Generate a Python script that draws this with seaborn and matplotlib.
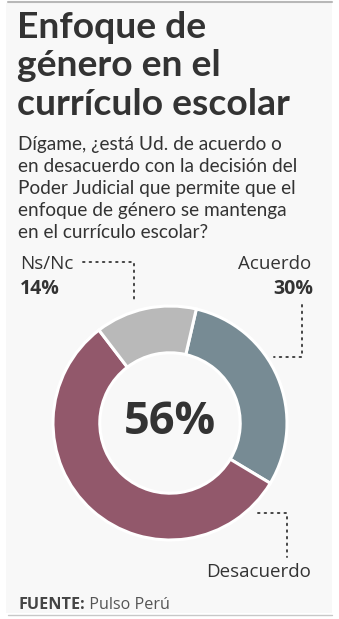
import matplotlib
matplotlib.use("Agg")
import matplotlib.pyplot as plt
import seaborn as sns
from matplotlib.patches import Rectangle

categories = ["Acuerdo", "Desacuerdo", "Ns/Nc"]
values = [30, 56, 14]
value_labels = ["30%", "56%", "14%"]
colors = ["#778b94", "#92586b", "#b9b9b9"]

title_lines = ["Enfoque de", "género en el", "currículo escolar"]
subtitle_lines = ["Dígame, ¿está Ud. de acuerdo o",
                  "en desacuerdo con la decisión del",
                  "Poder Judicial que permite que el",
                  "enfoque de género se mantenga",
                  "en el currículo escolar?"]
source_bold = "FUENTE:"
source_rest = " Pulso Perú"

sns.set_theme(style="white")
plt.rcParams['font.family'] = ['Open Sans', 'DejaVu Sans']

W, H = 339, 619
fig = plt.figure(figsize=(W / 100, H / 100), dpi=100)
fig.patch.set_facecolor("white")

# overlay in pixel coordinates
ov = fig.add_axes([0, 0, 1, 1])
ov.set_xlim(0, W)
ov.set_ylim(H, 0)
ov.axis("off")
ov.add_patch(Rectangle((6, 3), 326, 610, facecolor="#f8f8f8", edgecolor="none", zorder=0))
ov.plot([8, 332], [1.5, 1.5], color="#b8b8b8", lw=1.5)
ov.plot([8, 332], [614.5, 614.5], color="#c8c8c8", lw=1.0)

dark = "#333333"
for i, line in enumerate(title_lines):
    ov.text(17, 38 + i * 38.5, line, fontsize=26.8, fontweight="bold", color=dark,
            va="baseline", family=['Lato', 'DejaVu Sans'])
for i, line in enumerate(subtitle_lines):
    ov.text(18, 150 + i * 22, line, fontsize=13.7, color=dark,
            va="baseline", family=['Lato', 'DejaVu Sans'])

# donut
cx, cy, r = 170, 423, 117
ax = fig.add_axes([(cx - r) / W, (H - cy - r) / H, 2 * r / W, 2 * r / H])
wedges, _ = ax.pie(values, colors=colors, startangle=77, counterclock=False,
                   radius=1.0, wedgeprops=dict(width=0.40, edgecolor="white", linewidth=2.2))
ax.set_xlim(-1, 1)
ax.set_ylim(-1, 1)
ax.set_aspect("equal")
ax.axis("off")
ax.patch.set_alpha(0)

ax.text(0, 0, value_labels[1], ha="center", va="center", fontsize=32.5, fontweight="bold",
        color=dark)

# labels
lab_col = "#333333"
ov.text(20, 269, categories[2], fontsize=13.5, color=lab_col, va="baseline", ha="left")
ov.text(20, 294, value_labels[2], fontsize=14, fontweight="bold", color=lab_col, va="baseline", ha="left")
ov.text(311, 269, categories[0], fontsize=13.5, color=lab_col, va="baseline", ha="right")
ov.text(313, 294, value_labels[0], fontsize=14, fontweight="bold", color=lab_col, va="baseline", ha="right")
ov.text(311, 577, categories[1], fontsize=13.5, color=lab_col, va="baseline", ha="right")

dot = dict(color="#444444", lw=1.4, linestyle=(0, (0.8, 2.6)), dash_capstyle="round")
ov.plot([83, 134, 134], [262, 262, 302], **dot)
ov.plot([302, 302, 274], [305, 357, 357], **dot)
ov.plot([258, 287, 287], [513, 513, 557], **dot)

t = ov.text(18, 609, source_bold, fontsize=11.6, fontweight="bold", color="#444444", va="baseline")
fig.canvas.draw()
bb = t.get_window_extent()
x_end = bb.x1
ov.text(x_end, 609, source_rest, fontsize=11.6, color="#555555", va="baseline",
        transform=matplotlib.transforms.blended_transform_factory(
            matplotlib.transforms.IdentityTransform(), ov.transData))

fig.savefig("out.png", dpi=100)
